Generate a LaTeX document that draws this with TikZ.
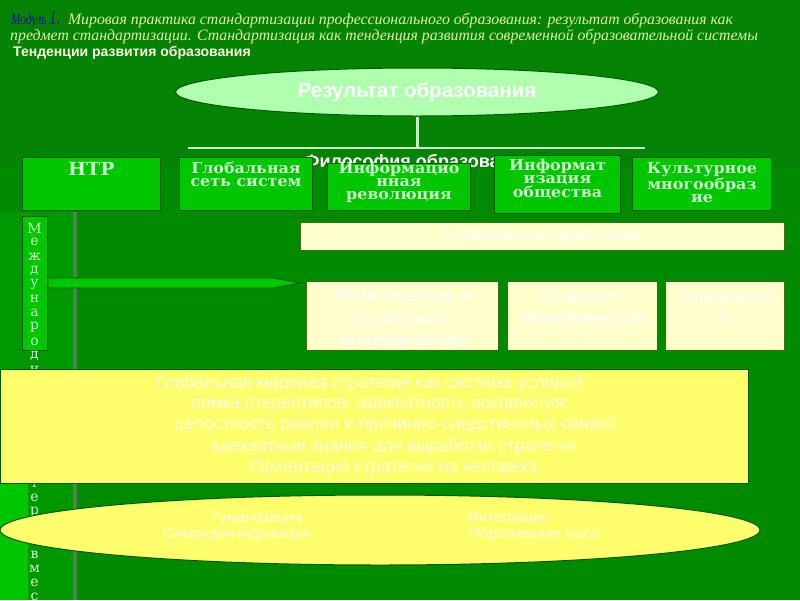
\documentclass[tikz,border=0pt]{standalone}
\usepackage{fontspec}
\setmainfont{Liberation Serif}
\newfontfamily\condserif[FakeStretch=0.72]{Liberation Serif}
\newfontfamily\sansf{Liberation Sans}
\newfontfamily\wserif[FakeStretch=1.06]{DejaVu Serif}
\newfontfamily\dvserif{DejaVu Serif}
\newfontfamily\dvsans{DejaVu Sans}
\usetikzlibrary{shapes.geometric,calc}
\definecolor{bgmain}{RGB}{0,138,0}
\definecolor{bgtop}{RGB}{4,131,4}
\definecolor{stripg}{RGB}{0,152,0}
\definecolor{brg}{RGB}{0,198,0}
\definecolor{dkg}{RGB}{0,90,0}
\definecolor{lgt}{RGB}{205,250,205}
\definecolor{ellg}{RGB}{175,255,175}
\definecolor{cream}{RGB}{255,255,204}
\definecolor{yel}{RGB}{255,255,110}
\definecolor{grayl}{RGB}{75,135,75}
\definecolor{hdr}{RGB}{225,240,170}
\definecolor{modblue}{RGB}{20,20,140}
\definecolor{linec}{RGB}{200,240,200}
\definecolor{creamb}{RGB}{60,110,30}
\definecolor{paley}{RGB}{255,255,215}
\begin{document}
\begin{tikzpicture}[x=1pt,y=-1pt,
  gbox/.style={draw=dkg,fill=brg,line width=1pt,anchor=north west,inner sep=0pt},
  gtxt/.style={font=\wserif\bfseries\fontsize{15}{13}\selectfont,text=lgt,align=center,inner sep=0pt,anchor=north},
  cbox/.style={draw=creamb,fill=cream,line width=1pt,anchor=north west,inner sep=0pt},
  ctxt/.style={font=\dvsans\fontsize{16}{21.7}\selectfont,text=white,align=center,inner sep=0pt,anchor=north},
  ytxt/.style={font=\sansf\fontsize{17.5}{17.5}\selectfont,text=paley,inner sep=0pt,anchor=mid},
  etxt/.style={font=\sansf\fontsize{15}{15}\selectfont,text=paley,inner sep=0pt},
  vlet/.style={font=\dvserif\fontsize{14}{14}\selectfont,text=lgt,inner sep=0pt,anchor=center},
  hdrtxt/.style={font=\itshape\fontsize{15.8}{16}\selectfont,text=hdr,inner sep=0pt,anchor=base west}]
\useasboundingbox (0,0) rectangle (800,600);
% background
\fill[bgmain] (0,0) rectangle (800,600);
\fill[bgtop] (0,0) rectangle (800,168);
\fill[stripg] (0,212) rectangle (73,600);
\fill[brg] (0,483) rectangle (28,600);
\draw[grayl,line width=3.5pt] (75,212) -- (75,600);
% header
\node[hdrtxt] (h1) at (11,24) {{\color{modblue}\condserif\itshape Модуль {\fontsize{20}{20}\selectfont 1.}}\enspace Мировая практика стандартизации профессионального образования: результат образования как};
\node[hdrtxt] (h2) at (10,40) {предмет стандартизации. Стандартизация как тенденция развития современной образовательной системы};
\node[font=\sansf\bfseries\fontsize{14}{14}\selectfont,text=white!90!yellow,inner sep=0pt,anchor=base west] (h3) at (13,56) {Тенденции развития образования};
% result ellipse
\node[ellipse,draw=dkg,fill=ellg,line width=1pt,minimum width=483pt,minimum height=48pt,inner sep=0pt,
  font=\sansf\bfseries\fontsize{20.5}{20.5}\selectfont,text=white] (res) at (417,92) {Результат образования};
\coordinate (hl) at (188,148);
\coordinate (hr) at (645,148);
\draw[linec,line width=2pt] (hl) -- (hr);
\draw[linec,line width=3pt] (res.south) -- (res.south |- hl);
\node[font=\sansf\bfseries\fontsize{18}{18}\selectfont,text=white,inner sep=0pt,anchor=base west] (phil) at (304,167) {Философия образования};
% green boxes
\node[gbox,minimum width=138pt,minimum height=53pt] (ntr) at (22,157) {};
\node[gbox,minimum width=133pt,minimum height=53pt] (glob) at (179,157) {};
\node[gbox,minimum width=143pt,minimum height=47pt] (inrev) at (327,163) {};
\node[gbox,minimum width=126pt,minimum height=58pt] (infz) at (494,155) {};
\node[gbox,minimum width=139pt,minimum height=53pt] (cult) at (632,157) {};
\node[gtxt,font=\wserif\bfseries\fontsize{18}{18}\selectfont] (ntrt) at ($(ntr.north)+(0,5)$) {НТР};
\node[gtxt] (globt) at ($(glob.north)+(0,5)$) {Глобальная\\сеть систем};
\node[gtxt] (inrevt) at ($(inrev.north)+(0,-1)$) {Информацио\\нная\\революция};
\node[gtxt,font=\wserif\bfseries\fontsize{15}{12.5}\selectfont] (infzt) at ($(infz.north)+(0,4)$) {Информат\\изация\\общества};
\node[gtxt] (cultt) at ($(cult.north)+(0,5)$) {Культурное\\многообраз\\ие};
% international box with vertical letters
\node[gbox,minimum width=25pt,minimum height=134pt] (mezh) at (22,216) {};
\foreach \i/\l in {0/М,1/е,2/ж,3/д,4/у,5/н,6/а,7/р,8/о,9/д,10/н,18/т,19/е,20/р,23/в,24/м,25/е,26/с}{
  \node[vlet] (v\i) at (34.5,{228+14.2*\i}) {\l};
}
% arrow
\coordinate (atip) at (300,283);
\filldraw[fill=brg,draw=dkg,line width=0.8pt] (mezh.east |- 0,278) -- (273,278) -- (atip) -- (273,288) -- (mezh.east |- 0,288) -- cycle;
% cream boxes
\node[cbox,minimum width=484pt,minimum height=28pt,font=\dvsans\fontsize{16.5}{16.5}\selectfont,text=white] (gp) at (300,222) {Глобальные проблемы};
\node[cbox,minimum width=192pt,minimum height=69pt] (pol) at (306,281) {};
\node[cbox,minimum width=150pt,minimum height=69pt] (prir) at (507,281) {};
\node[cbox,minimum width=119pt,minimum height=69pt] (soc) at (665,281) {};
\node[ctxt] (polt) at ($(pol.north)+(0,9)$) {Политические и\\социально-\\экономические};
\node[ctxt] (prirt) at ($(prir.north)+(0,9)$) {Природно-\\экономические};
\node[ctxt] (soct) at ($(soc.north)+(0,9)$) {Социальны\\е};
% strategy box
\node[draw=dkg,fill=yel,line width=1pt,anchor=north west,inner sep=0pt,minimum width=748pt,minimum height=114pt] (strat) at (0,369) {};
\node[ytxt] (s1) at (372,386) {Глобальная мировая стратегия как система условий:};
\node[ytxt] (s2) at (380,406) {ломка стереотипов- адекватность восприятия;};
\node[ytxt] (s3) at (395,427) {целостность реалии и причинно-следственных связей};
\node[ytxt] (s4) at (394,449) {адекватные знания для выработки стратегии};
\node[ytxt] (s5) at (394,470) {Ориентация стратегии на человека};
% bottom ellipse
\node[ellipse,draw=dkg,fill=yel,line width=1pt,minimum width=760pt,minimum height=70pt,inner sep=0pt] (ell) at (380,530) {};
\node[etxt,anchor=mid] (e1) at (257,520) {Гуманизация};
\node[etxt,anchor=mid] (e2) at (237,536) {Самоидентификация};
\node[etxt,anchor=mid west] (e3) at (468,520) {Интеграция};
\node[etxt,anchor=mid west] (e4) at (468,536) {Образование масс};
\end{tikzpicture}
\end{document}
